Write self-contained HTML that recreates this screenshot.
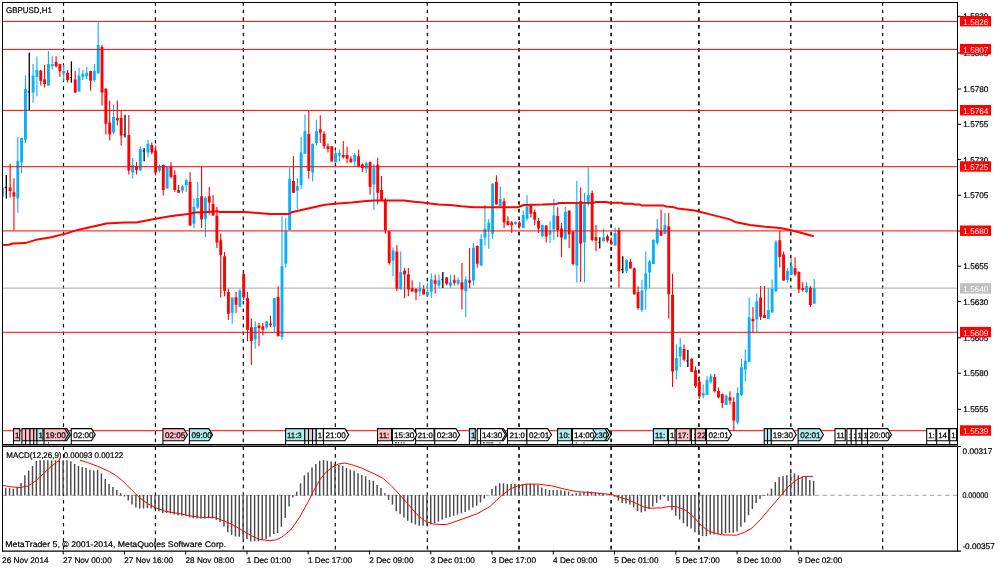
<!DOCTYPE html>
<html lang="en">
<head>
<meta charset="utf-8">
<title>GBPUSD,H1</title>
<style>
html,body{margin:0;padding:0;background:#fff;}
body{width:1000px;height:571px;overflow:hidden;font-family:"Liberation Sans", Arial, sans-serif;}
svg{display:block;}
text{text-rendering:geometricPrecision;}
text{white-space:pre;}
</style>
</head>
<body>
<svg width="1000" height="571" viewBox="0 0 1000 571">
<rect width="1000" height="571" fill="#fff"/>
<g style="will-change:opacity" opacity="0.9999">
<g stroke="#000" stroke-dasharray="3.7 3.96" fill="none">
<path d="M63.5 2V551" stroke-width="1.15"/>
<path d="M155.4 2V551" stroke-width="1.15"/>
<path d="M243.3 2V551" stroke-width="1.15"/>
<path d="M335.3 2V551" stroke-width="1.15"/>
<path d="M427.3 2V551" stroke-width="1.15"/>
<path d="M519 2V551" stroke-width="1.6"/>
<path d="M611.1 2V551" stroke-width="1.6"/>
<path d="M698.9 2V551" stroke-width="1.6"/>
<path d="M790.8 2V551" stroke-width="1.35"/>
<path d="M882.7 2V551" stroke-width="1.15"/>
</g>
<path d="M3 288.15H957" stroke="#b9b9b9" stroke-width="1.1" fill="none"/>
<clipPath id="mc"><rect x="3" y="3" width="954" height="441"/></clipPath>
<g clip-path="url(#mc)" fill="none">
<g stroke="#0ab0fd">
<path d="M2.47 187.5V196.5" stroke-width="1.1"/>
<path d="M2.47 187.5V196.5" stroke-width="2.9"/>
<path d="M17.79 136.9V212.7" stroke-width="1.1"/>
<path d="M17.79 160.8V198.5" stroke-width="2.9"/>
<path d="M21.62 137.9V172.9" stroke-width="1.1"/>
<path d="M21.62 137.9V162.5" stroke-width="2.9"/>
<path d="M25.45 75.6V143.1" stroke-width="1.1"/>
<path d="M25.45 89V140" stroke-width="2.9"/>
<path d="M33.1 64.1V102.75" stroke-width="1.1"/>
<path d="M33.1 75.6V92.5" stroke-width="2.9"/>
<path d="M36.93 56.5V96.25" stroke-width="1.1"/>
<path d="M36.93 70V76.9" stroke-width="2.9"/>
<path d="M48.42 51V85.6" stroke-width="1.1"/>
<path d="M48.42 64.1V85.6" stroke-width="2.9"/>
<path d="M52.25 56.25V69.6" stroke-width="1.1"/>
<path d="M52.25 64.1V66" stroke-width="2.9"/>
<path d="M63.73 65V81.25" stroke-width="1.1"/>
<path d="M63.73 71V73.5" stroke-width="2.9"/>
<path d="M79.05 68.1V91.6" stroke-width="1.1"/>
<path d="M79.05 75.6V91.6" stroke-width="2.9"/>
<path d="M82.88 70V80" stroke-width="1.1"/>
<path d="M82.88 73.75V76.9" stroke-width="2.9"/>
<path d="M86.71 67.1V79" stroke-width="1.1"/>
<path d="M86.71 72.75V76.25" stroke-width="2.9"/>
<path d="M94.37 64.1V82.1" stroke-width="1.1"/>
<path d="M94.37 70.9V80" stroke-width="2.9"/>
<path d="M98.2 22.1V73.5" stroke-width="1.1"/>
<path d="M98.2 45V73.5" stroke-width="2.9"/>
<path d="M113.51 105V134.6" stroke-width="1.1"/>
<path d="M113.51 116.9V132.5" stroke-width="2.9"/>
<path d="M132.66 158.1V178.5" stroke-width="1.1"/>
<path d="M132.66 165V172.5" stroke-width="2.9"/>
<path d="M140.32 146.25V170.6" stroke-width="1.1"/>
<path d="M140.32 148.75V170.6" stroke-width="2.9"/>
<path d="M147.97 139.75V157.5" stroke-width="1.1"/>
<path d="M147.97 143.75V152.5" stroke-width="2.9"/>
<path d="M159.46 164.75V172.5" stroke-width="1.1"/>
<path d="M159.46 166.9V170.8" stroke-width="2.9"/>
<path d="M167.12 167.1V188.5" stroke-width="1.1"/>
<path d="M167.12 167.1V188.5" stroke-width="2.9"/>
<path d="M182.43 184.75V192.75" stroke-width="1.1"/>
<path d="M182.43 186.5V190.6" stroke-width="2.9"/>
<path d="M186.26 178.75V191.9" stroke-width="1.1"/>
<path d="M186.26 180.25V185" stroke-width="2.9"/>
<path d="M193.92 198.75V228.1" stroke-width="1.1"/>
<path d="M193.92 206.9V223.75" stroke-width="2.9"/>
<path d="M197.75 181.9V209" stroke-width="1.1"/>
<path d="M197.75 198.1V207.5" stroke-width="2.9"/>
<path d="M205.41 196.25V236.9" stroke-width="1.1"/>
<path d="M205.41 197.75V218.75" stroke-width="2.9"/>
<path d="M232.21 297.5V323.75" stroke-width="1.1"/>
<path d="M232.21 297.5V312.75" stroke-width="2.9"/>
<path d="M239.87 288.75V306.9" stroke-width="1.1"/>
<path d="M239.87 290.6V306.9" stroke-width="2.9"/>
<path d="M255.19 321.25V348.75" stroke-width="1.1"/>
<path d="M255.19 326.9V339.4" stroke-width="2.9"/>
<path d="M266.67 321.25V328.75" stroke-width="1.1"/>
<path d="M266.67 321.25V327.5" stroke-width="2.9"/>
<path d="M274.33 298.1V331.9" stroke-width="1.1"/>
<path d="M274.33 298.1V326.9" stroke-width="2.9"/>
<path d="M281.99 216.25V340.2" stroke-width="1.1"/>
<path d="M281.99 266.25V337" stroke-width="2.9"/>
<path d="M285.82 218.1V267.5" stroke-width="1.1"/>
<path d="M285.82 231.25V263.75" stroke-width="2.9"/>
<path d="M289.65 167.5V230" stroke-width="1.1"/>
<path d="M289.65 178.75V230" stroke-width="2.9"/>
<path d="M297.3 178.1V209" stroke-width="1.1"/>
<path d="M297.3 186.25V190.6" stroke-width="2.9"/>
<path d="M301.13 136.9V188.75" stroke-width="1.1"/>
<path d="M301.13 152.5V185" stroke-width="2.9"/>
<path d="M304.96 114.4V153.75" stroke-width="1.1"/>
<path d="M304.96 131.25V153.75" stroke-width="2.9"/>
<path d="M312.62 143.75V181.5" stroke-width="1.1"/>
<path d="M312.62 143.75V172.5" stroke-width="2.9"/>
<path d="M316.45 119.75V145.6" stroke-width="1.1"/>
<path d="M316.45 131.25V143.1" stroke-width="2.9"/>
<path d="M335.59 150V162.25" stroke-width="1.1"/>
<path d="M335.59 153.1V162.25" stroke-width="2.9"/>
<path d="M339.42 149.4V161.25" stroke-width="1.1"/>
<path d="M339.42 153.1V155.6" stroke-width="2.9"/>
<path d="M354.74 153.1V166.25" stroke-width="1.1"/>
<path d="M354.74 155V161.5" stroke-width="2.9"/>
<path d="M366.23 161.5V172.9" stroke-width="1.1"/>
<path d="M366.23 163.1V168.75" stroke-width="2.9"/>
<path d="M373.88 163.75V210" stroke-width="1.1"/>
<path d="M373.88 167.5V184.4" stroke-width="2.9"/>
<path d="M393.03 247.5V276.25" stroke-width="1.1"/>
<path d="M393.03 250.6V260.6" stroke-width="2.9"/>
<path d="M400.69 251.5V289.4" stroke-width="1.1"/>
<path d="M400.69 271.9V289.4" stroke-width="2.9"/>
<path d="M419.83 282.25V296.25" stroke-width="1.1"/>
<path d="M419.83 288.1V291.5" stroke-width="2.9"/>
<path d="M427.49 283.1V295.6" stroke-width="1.1"/>
<path d="M427.49 291.9V295.6" stroke-width="2.9"/>
<path d="M431.32 273.5V298.1" stroke-width="1.1"/>
<path d="M431.32 279.4V291.5" stroke-width="2.9"/>
<path d="M438.98 274.75V287.75" stroke-width="1.1"/>
<path d="M438.98 280.25V285.6" stroke-width="2.9"/>
<path d="M450.46 274.75V287.75" stroke-width="1.1"/>
<path d="M450.46 282.25V285.6" stroke-width="2.9"/>
<path d="M458.12 277.5V285.6" stroke-width="1.1"/>
<path d="M458.12 280V283.75" stroke-width="2.9"/>
<path d="M465.78 276.5V317" stroke-width="1.1"/>
<path d="M465.78 279.4V291.25" stroke-width="2.9"/>
<path d="M473.44 243.1V285.6" stroke-width="1.1"/>
<path d="M473.44 247.75V280.6" stroke-width="2.9"/>
<path d="M481.1 234.4V265.6" stroke-width="1.1"/>
<path d="M481.1 239V265.6" stroke-width="2.9"/>
<path d="M484.93 204.75V245.6" stroke-width="1.1"/>
<path d="M484.93 228.75V237.5" stroke-width="2.9"/>
<path d="M488.75 219V248.75" stroke-width="1.1"/>
<path d="M488.75 222.75V230" stroke-width="2.9"/>
<path d="M492.58 183.2V238.75" stroke-width="1.1"/>
<path d="M492.58 183.75V233.75" stroke-width="2.9"/>
<path d="M500.24 186.5V206" stroke-width="1.1"/>
<path d="M500.24 199V206" stroke-width="2.9"/>
<path d="M515.56 221.25V225" stroke-width="1.1"/>
<path d="M515.56 222V224" stroke-width="2.9"/>
<path d="M523.22 210.6V228.1" stroke-width="1.1"/>
<path d="M523.22 215V228.1" stroke-width="2.9"/>
<path d="M527.04 195.25V220.6" stroke-width="1.1"/>
<path d="M527.04 206.25V218.75" stroke-width="2.9"/>
<path d="M542.36 224.75V237.25" stroke-width="1.1"/>
<path d="M542.36 225V236.25" stroke-width="2.9"/>
<path d="M550.02 221.25V243.1" stroke-width="1.1"/>
<path d="M550.02 231.25V234.75" stroke-width="2.9"/>
<path d="M553.85 199V239.75" stroke-width="1.1"/>
<path d="M553.85 215.25V229.4" stroke-width="2.9"/>
<path d="M565.33 206.9V239.4" stroke-width="1.1"/>
<path d="M565.33 211.9V239.4" stroke-width="2.9"/>
<path d="M576.82 181V282.5" stroke-width="1.1"/>
<path d="M576.82 202.5V265.6" stroke-width="2.9"/>
<path d="M584.48 193.1V282.5" stroke-width="1.1"/>
<path d="M584.48 204.4V242.25" stroke-width="2.9"/>
<path d="M588.31 167.25V206.25" stroke-width="1.1"/>
<path d="M588.31 195V201.9" stroke-width="2.9"/>
<path d="M603.62 228.75V241.25" stroke-width="1.1"/>
<path d="M603.62 237.5V241.25" stroke-width="2.9"/>
<path d="M615.11 227.5V245.6" stroke-width="1.1"/>
<path d="M615.11 233.1V245.6" stroke-width="2.9"/>
<path d="M626.6 259V273.1" stroke-width="1.1"/>
<path d="M626.6 260.1V271.25" stroke-width="2.9"/>
<path d="M641.91 280V311.9" stroke-width="1.1"/>
<path d="M641.91 290.6V310" stroke-width="2.9"/>
<path d="M645.74 251.5V309.75" stroke-width="1.1"/>
<path d="M645.74 273.5V289.4" stroke-width="2.9"/>
<path d="M649.57 260V288.5" stroke-width="1.1"/>
<path d="M649.57 261.5V272.5" stroke-width="2.9"/>
<path d="M653.4 239.5V264" stroke-width="1.1"/>
<path d="M653.4 239.75V264" stroke-width="2.9"/>
<path d="M657.23 219V244.75" stroke-width="1.1"/>
<path d="M657.23 228.5V243.1" stroke-width="2.9"/>
<path d="M664.89 213.1V234" stroke-width="1.1"/>
<path d="M664.89 225V234" stroke-width="2.9"/>
<path d="M676.38 344.4V379.4" stroke-width="1.1"/>
<path d="M676.38 358.1V370.6" stroke-width="2.9"/>
<path d="M680.2 338.1V366.9" stroke-width="1.1"/>
<path d="M680.2 346.9V356.5" stroke-width="2.9"/>
<path d="M703.18 384.4V398.5" stroke-width="1.1"/>
<path d="M703.18 393.1V395.6" stroke-width="2.9"/>
<path d="M707.01 376.25V395" stroke-width="1.1"/>
<path d="M707.01 380V395" stroke-width="2.9"/>
<path d="M710.84 373.75V383.75" stroke-width="1.1"/>
<path d="M710.84 376.25V381.9" stroke-width="2.9"/>
<path d="M726.15 394.4V405" stroke-width="1.1"/>
<path d="M726.15 395.6V405" stroke-width="2.9"/>
<path d="M737.64 387.5V424.4" stroke-width="1.1"/>
<path d="M737.64 393.1V422.5" stroke-width="2.9"/>
<path d="M741.47 359V396.25" stroke-width="1.1"/>
<path d="M741.47 367.25V395" stroke-width="2.9"/>
<path d="M745.3 349.4V381.25" stroke-width="1.1"/>
<path d="M745.3 360.6V369.75" stroke-width="2.9"/>
<path d="M749.13 297.5V361.9" stroke-width="1.1"/>
<path d="M749.13 317.5V361.9" stroke-width="2.9"/>
<path d="M756.78 293.5V331.9" stroke-width="1.1"/>
<path d="M756.78 301.25V319.4" stroke-width="2.9"/>
<path d="M768.27 288.1V319" stroke-width="1.1"/>
<path d="M768.27 310V319" stroke-width="2.9"/>
<path d="M772.1 279.4V312.5" stroke-width="1.1"/>
<path d="M772.1 288.75V312.5" stroke-width="2.9"/>
<path d="M775.93 240V291.4" stroke-width="1.1"/>
<path d="M775.93 241.9V291.4" stroke-width="2.9"/>
<path d="M787.42 268.1V282.75" stroke-width="1.1"/>
<path d="M787.42 271V280" stroke-width="2.9"/>
<path d="M791.25 259V275" stroke-width="1.1"/>
<path d="M791.25 266V275" stroke-width="2.9"/>
<path d="M806.56 282.25V293.3" stroke-width="1.1"/>
<path d="M806.56 286V291.9" stroke-width="2.9"/>
<path d="M814.22 279V303.75" stroke-width="1.1"/>
<path d="M814.22 288.1V303.75" stroke-width="2.9"/>
</g>
<g stroke="#ff0000">
<path d="M10.13 163.7V197.5" stroke-width="1.1"/>
<path d="M10.13 187.5V191" stroke-width="2.9"/>
<path d="M13.96 178.2V230.3" stroke-width="1.1"/>
<path d="M13.96 192.3V196.5" stroke-width="2.9"/>
<path d="M40.76 70V85.6" stroke-width="1.1"/>
<path d="M40.76 70.6V80.8" stroke-width="2.9"/>
<path d="M44.59 65V87.5" stroke-width="1.1"/>
<path d="M44.59 79.4V84" stroke-width="2.9"/>
<path d="M56.08 56.25V67.5" stroke-width="1.1"/>
<path d="M56.08 61.9V66.25" stroke-width="2.9"/>
<path d="M59.91 63.75V77.1" stroke-width="1.1"/>
<path d="M59.91 64.1V71.25" stroke-width="2.9"/>
<path d="M67.56 70V82.6" stroke-width="1.1"/>
<path d="M67.56 72.75V80" stroke-width="2.9"/>
<path d="M75.22 71V93" stroke-width="1.1"/>
<path d="M75.22 79.4V92.5" stroke-width="2.9"/>
<path d="M90.54 70.9V90.6" stroke-width="1.1"/>
<path d="M90.54 70.9V80.6" stroke-width="2.9"/>
<path d="M102.03 45V105.6" stroke-width="1.1"/>
<path d="M102.03 46.9V92.5" stroke-width="2.9"/>
<path d="M105.85 88.1V134.6" stroke-width="1.1"/>
<path d="M105.85 89V123.75" stroke-width="2.9"/>
<path d="M109.68 100.6V140.6" stroke-width="1.1"/>
<path d="M109.68 122.5V134.4" stroke-width="2.9"/>
<path d="M117.34 100.6V125.6" stroke-width="1.1"/>
<path d="M117.34 118.1V120.25" stroke-width="2.9"/>
<path d="M121.17 110.6V145.6" stroke-width="1.1"/>
<path d="M121.17 117.9V135.6" stroke-width="2.9"/>
<path d="M128.83 115V174.6" stroke-width="1.1"/>
<path d="M128.83 135V170.6" stroke-width="2.9"/>
<path d="M136.49 161.9V174.4" stroke-width="1.1"/>
<path d="M136.49 166.25V170" stroke-width="2.9"/>
<path d="M151.8 142.5V154.6" stroke-width="1.1"/>
<path d="M151.8 145V152.5" stroke-width="2.9"/>
<path d="M155.63 145.6V175.6" stroke-width="1.1"/>
<path d="M155.63 150.6V172.4" stroke-width="2.9"/>
<path d="M163.29 164.5V195.6" stroke-width="1.1"/>
<path d="M163.29 165V190" stroke-width="2.9"/>
<path d="M170.95 161.9V178.5" stroke-width="1.1"/>
<path d="M170.95 166.25V176.9" stroke-width="2.9"/>
<path d="M174.78 170.3V191.9" stroke-width="1.1"/>
<path d="M174.78 175V190" stroke-width="2.9"/>
<path d="M178.61 185V192.75" stroke-width="1.1"/>
<path d="M178.61 190V192.75" stroke-width="2.9"/>
<path d="M190.09 172.25V225.6" stroke-width="1.1"/>
<path d="M190.09 181.9V225.6" stroke-width="2.9"/>
<path d="M201.58 167V228.1" stroke-width="1.1"/>
<path d="M201.58 196.25V219.4" stroke-width="2.9"/>
<path d="M209.24 186.9V214.4" stroke-width="1.1"/>
<path d="M209.24 196.25V202.5" stroke-width="2.9"/>
<path d="M213.07 195V215.6" stroke-width="1.1"/>
<path d="M213.07 204V215.6" stroke-width="2.9"/>
<path d="M216.9 206.9V248.1" stroke-width="1.1"/>
<path d="M216.9 215.6V242.5" stroke-width="2.9"/>
<path d="M220.72 233.5V297.5" stroke-width="1.1"/>
<path d="M220.72 240.25V255" stroke-width="2.9"/>
<path d="M224.55 251.9V296.25" stroke-width="1.1"/>
<path d="M224.55 256.25V290.8" stroke-width="2.9"/>
<path d="M228.38 288.75V320" stroke-width="1.1"/>
<path d="M228.38 292V313.75" stroke-width="2.9"/>
<path d="M236.04 291.9V312.75" stroke-width="1.1"/>
<path d="M236.04 297.25V304.75" stroke-width="2.9"/>
<path d="M243.7 273.75V300" stroke-width="1.1"/>
<path d="M243.7 273.75V297.5" stroke-width="2.9"/>
<path d="M247.53 291.9V341.25" stroke-width="1.1"/>
<path d="M247.53 298.1V329.75" stroke-width="2.9"/>
<path d="M251.36 318.5V365" stroke-width="1.1"/>
<path d="M251.36 327.25V341" stroke-width="2.9"/>
<path d="M259.01 323.1V346" stroke-width="1.1"/>
<path d="M259.01 325.6V328.1" stroke-width="2.9"/>
<path d="M262.84 323.1V335.6" stroke-width="1.1"/>
<path d="M262.84 326.25V329.75" stroke-width="2.9"/>
<path d="M270.5 315.6V326.9" stroke-width="1.1"/>
<path d="M270.5 323.5V325.25" stroke-width="2.9"/>
<path d="M278.16 286.25V336.25" stroke-width="1.1"/>
<path d="M278.16 296.9V336.25" stroke-width="2.9"/>
<path d="M293.48 156.25V192.75" stroke-width="1.1"/>
<path d="M293.48 181V192.75" stroke-width="2.9"/>
<path d="M308.79 110.6V178.75" stroke-width="1.1"/>
<path d="M308.79 134V171" stroke-width="2.9"/>
<path d="M320.28 115.25V143.1" stroke-width="1.1"/>
<path d="M320.28 129.4V132.75" stroke-width="2.9"/>
<path d="M324.11 131.25V148.75" stroke-width="1.1"/>
<path d="M324.11 133.75V146.25" stroke-width="2.9"/>
<path d="M327.94 143.5V152.5" stroke-width="1.1"/>
<path d="M327.94 146.25V149" stroke-width="2.9"/>
<path d="M331.77 146.25V161.5" stroke-width="1.1"/>
<path d="M331.77 146.25V161.5" stroke-width="2.9"/>
<path d="M343.25 141V158.5" stroke-width="1.1"/>
<path d="M343.25 155V157.25" stroke-width="2.9"/>
<path d="M347.08 146.5V163.1" stroke-width="1.1"/>
<path d="M347.08 155V158.75" stroke-width="2.9"/>
<path d="M350.91 156.25V163.1" stroke-width="1.1"/>
<path d="M350.91 158.75V162.1" stroke-width="2.9"/>
<path d="M358.57 149.4V166.25" stroke-width="1.1"/>
<path d="M358.57 156.25V166.25" stroke-width="2.9"/>
<path d="M362.4 163.5V171.9" stroke-width="1.1"/>
<path d="M362.4 164.4V168.1" stroke-width="2.9"/>
<path d="M370.06 161.5V194.75" stroke-width="1.1"/>
<path d="M370.06 162.1V186.9" stroke-width="2.9"/>
<path d="M377.71 157.75V204.4" stroke-width="1.1"/>
<path d="M377.71 164.75V192.75" stroke-width="2.9"/>
<path d="M381.54 176V200.6" stroke-width="1.1"/>
<path d="M381.54 190V200.6" stroke-width="2.9"/>
<path d="M385.37 198.1V233.75" stroke-width="1.1"/>
<path d="M385.37 199.75V230" stroke-width="2.9"/>
<path d="M389.2 231.25V264.75" stroke-width="1.1"/>
<path d="M389.2 231.25V263" stroke-width="2.9"/>
<path d="M396.86 245.25V291.25" stroke-width="1.1"/>
<path d="M396.86 251.5V288.75" stroke-width="2.9"/>
<path d="M404.52 268.1V298.1" stroke-width="1.1"/>
<path d="M404.52 270.6V274.4" stroke-width="2.9"/>
<path d="M408.35 268.1V296" stroke-width="1.1"/>
<path d="M408.35 274.4V289.4" stroke-width="2.9"/>
<path d="M412.17 280.25V291.5" stroke-width="1.1"/>
<path d="M412.17 288.1V291.5" stroke-width="2.9"/>
<path d="M416 288V300" stroke-width="1.1"/>
<path d="M416 289V292.5" stroke-width="2.9"/>
<path d="M423.66 285.25V294.4" stroke-width="1.1"/>
<path d="M423.66 289V294.4" stroke-width="2.9"/>
<path d="M435.15 274.75V293.5" stroke-width="1.1"/>
<path d="M435.15 280.25V283.75" stroke-width="2.9"/>
<path d="M446.64 277V285.6" stroke-width="1.1"/>
<path d="M446.64 277.5V283.75" stroke-width="2.9"/>
<path d="M454.29 274.75V285.6" stroke-width="1.1"/>
<path d="M454.29 280.25V282.75" stroke-width="2.9"/>
<path d="M461.95 263.1V309.4" stroke-width="1.1"/>
<path d="M461.95 282.25V289.4" stroke-width="2.9"/>
<path d="M469.61 248.1V288.1" stroke-width="1.1"/>
<path d="M469.61 280.25V282.75" stroke-width="2.9"/>
<path d="M477.27 245.6V267.75" stroke-width="1.1"/>
<path d="M477.27 246V263.75" stroke-width="2.9"/>
<path d="M496.41 175.25V204.4" stroke-width="1.1"/>
<path d="M496.41 181.9V204.4" stroke-width="2.9"/>
<path d="M504.07 198.1V228.1" stroke-width="1.1"/>
<path d="M504.07 201.25V222.5" stroke-width="2.9"/>
<path d="M507.9 216.25V225.25" stroke-width="1.1"/>
<path d="M507.9 221.25V225.25" stroke-width="2.9"/>
<path d="M511.73 221V233.1" stroke-width="1.1"/>
<path d="M511.73 222.5V225.25" stroke-width="2.9"/>
<path d="M519.39 221V228.5" stroke-width="1.1"/>
<path d="M519.39 222.5V226.5" stroke-width="2.9"/>
<path d="M530.87 204V217.75" stroke-width="1.1"/>
<path d="M530.87 204.4V213.75" stroke-width="2.9"/>
<path d="M534.7 209.4V225.25" stroke-width="1.1"/>
<path d="M534.7 211.9V219.75" stroke-width="2.9"/>
<path d="M538.53 218.1V233.1" stroke-width="1.1"/>
<path d="M538.53 221V228.5" stroke-width="2.9"/>
<path d="M546.19 225V242.5" stroke-width="1.1"/>
<path d="M546.19 225.6V236.5" stroke-width="2.9"/>
<path d="M557.68 207.25V236.9" stroke-width="1.1"/>
<path d="M557.68 216V230" stroke-width="2.9"/>
<path d="M561.5 223.1V256.9" stroke-width="1.1"/>
<path d="M561.5 228.5V237.5" stroke-width="2.9"/>
<path d="M569.16 210.2V248.1" stroke-width="1.1"/>
<path d="M569.16 210.6V234.4" stroke-width="2.9"/>
<path d="M572.99 231V265.6" stroke-width="1.1"/>
<path d="M572.99 231.25V264" stroke-width="2.9"/>
<path d="M580.65 187.5V281.9" stroke-width="1.1"/>
<path d="M580.65 201.25V243.5" stroke-width="2.9"/>
<path d="M592.14 190.6V241.5" stroke-width="1.1"/>
<path d="M592.14 193.1V240" stroke-width="2.9"/>
<path d="M595.97 225V251.25" stroke-width="1.1"/>
<path d="M595.97 237.25V240.6" stroke-width="2.9"/>
<path d="M607.45 234.4V242.5" stroke-width="1.1"/>
<path d="M607.45 236.25V240.6" stroke-width="2.9"/>
<path d="M611.28 237.5V244.4" stroke-width="1.1"/>
<path d="M611.28 241.9V244.4" stroke-width="2.9"/>
<path d="M618.94 227.5V287.75" stroke-width="1.1"/>
<path d="M618.94 230V271.25" stroke-width="2.9"/>
<path d="M630.43 259V268.5" stroke-width="1.1"/>
<path d="M630.43 261.9V268.5" stroke-width="2.9"/>
<path d="M634.26 267.5V294.4" stroke-width="1.1"/>
<path d="M634.26 268.3V294.4" stroke-width="2.9"/>
<path d="M638.09 286.25V309.75" stroke-width="1.1"/>
<path d="M638.09 291.9V308.1" stroke-width="2.9"/>
<path d="M661.06 209.4V236" stroke-width="1.1"/>
<path d="M661.06 230.5V235.6" stroke-width="2.9"/>
<path d="M668.72 213.1V318.5" stroke-width="1.1"/>
<path d="M668.72 226.25V294.4" stroke-width="2.9"/>
<path d="M672.55 273.75V386.9" stroke-width="1.1"/>
<path d="M672.55 294.75V371.5" stroke-width="2.9"/>
<path d="M684.03 344.4V361.25" stroke-width="1.1"/>
<path d="M684.03 349V359.75" stroke-width="2.9"/>
<path d="M691.69 358V371.9" stroke-width="1.1"/>
<path d="M691.69 358.75V371.9" stroke-width="2.9"/>
<path d="M695.52 366.5V388" stroke-width="1.1"/>
<path d="M695.52 370.25V386.25" stroke-width="2.9"/>
<path d="M699.35 376.25V399" stroke-width="1.1"/>
<path d="M699.35 381.5V396.25" stroke-width="2.9"/>
<path d="M714.66 374V392.5" stroke-width="1.1"/>
<path d="M714.66 376.9V391.25" stroke-width="2.9"/>
<path d="M718.49 387.5V398.5" stroke-width="1.1"/>
<path d="M718.49 391V397.25" stroke-width="2.9"/>
<path d="M722.32 393.5V408.1" stroke-width="1.1"/>
<path d="M722.32 394V403.1" stroke-width="2.9"/>
<path d="M729.98 391.25V404.4" stroke-width="1.1"/>
<path d="M729.98 397.25V400.6" stroke-width="2.9"/>
<path d="M733.81 397.25V430.5" stroke-width="1.1"/>
<path d="M733.81 401.9V420.6" stroke-width="2.9"/>
<path d="M752.96 306.9V331.9" stroke-width="1.1"/>
<path d="M752.96 318.75V321.25" stroke-width="2.9"/>
<path d="M760.61 286V320" stroke-width="1.1"/>
<path d="M760.61 297.5V316.9" stroke-width="2.9"/>
<path d="M764.44 286V318.1" stroke-width="1.1"/>
<path d="M764.44 315V318.1" stroke-width="2.9"/>
<path d="M779.76 231V267.5" stroke-width="1.1"/>
<path d="M779.76 240.25V256.9" stroke-width="2.9"/>
<path d="M783.59 251.5V280.6" stroke-width="1.1"/>
<path d="M783.59 254.4V280.6" stroke-width="2.9"/>
<path d="M795.07 257.25V276.25" stroke-width="1.1"/>
<path d="M795.07 268.1V274.4" stroke-width="2.9"/>
<path d="M798.9 271.5V293.3" stroke-width="1.1"/>
<path d="M798.9 271.9V289.4" stroke-width="2.9"/>
<path d="M802.73 282.25V291.5" stroke-width="1.1"/>
<path d="M802.73 288.1V289.9" stroke-width="2.9"/>
<path d="M810.39 286V306.9" stroke-width="1.1"/>
<path d="M810.39 287.75V305" stroke-width="2.9"/>
</g>
<g stroke="#000">
<path d="M6.3 175V198.6" stroke-width="1.3"/>
<path d="M4.8 187.3H6.3" stroke-width="1.1"/>
<path d="M29.27 52.5V110" stroke-width="1.3"/>
<path d="M27.77 91.9H29.27" stroke-width="1.1"/>
<path d="M71.39 61.25V82.7" stroke-width="1.3"/>
<path d="M69.89 77.5H71.39" stroke-width="1.1"/>
<path d="M125 114.75V137.5" stroke-width="1.3"/>
<path d="M123.5 134.8H125" stroke-width="1.1"/>
<path d="M144.14 148.1V161.25" stroke-width="1.3"/>
<path d="M142.64 151H144.14" stroke-width="1.1"/>
<path d="M442.81 271.9V288.1" stroke-width="1.3"/>
<path d="M441.31 279.8H442.81" stroke-width="1.1"/>
<path d="M599.79 237.25V248.5" stroke-width="1.3"/>
<path d="M598.29 242.3H599.79" stroke-width="1.1"/>
<path d="M622.77 256.25V273.3" stroke-width="1.3"/>
<path d="M621.27 269.6H622.77" stroke-width="1.1"/>
<path d="M687.86 350V366.9" stroke-width="1.3"/>
<path d="M686.36 361H687.86" stroke-width="1.1"/>
</g>
</g>
<polyline fill="none" stroke="#ff0000" stroke-width="2" stroke-linejoin="round" points="3.1,245 8.75,244.75 12.5,243.5 25,243.1 37.5,239.4 50,237.5 62.5,234.4 67.5,233.1 75,230.6 87.5,227.75 100,225 106.25,223.5 115,223.1 125,222.6 136.25,222.5 155.6,218.75 170,216.25 190,213.75 195,212.5 207.5,211.9 217.5,211.25 220,212.1 245,212.1 270,214 288.75,214 292.5,211.9 325,204.75 335,203.75 351.25,202.5 363.75,201.25 373.75,200.6 404,200.6 414,201.8 422.5,202.5 430,203.5 438.75,204.4 450,205 461.25,206.25 473.75,207.25 517.5,207.25 523.75,205 542.5,204.6 556.25,204 558.75,203.1 593.75,202.75 596.25,201.9 606.25,201.9 610,202.75 621.25,202.75 623.75,203.75 632.5,203.75 635,204.6 640,204.6 642.5,205.6 663.75,205.6 666.25,206.5 672.5,206.9 677.5,208.5 695,210.6 698.75,211.5 710,214.4 730,219.4 735,221.9 742.5,223.5 750,225 765,226.7 780,228 790,230 800,232.5 813.75,236.25"/>
<g stroke="#ff0000" stroke-width="1" fill="none">
<path d="M3 21.4H957"/>
<path d="M3 49.4H957"/>
<path d="M3 110.4H957"/>
<path d="M3 166.7H957"/>
<path d="M3 230.9H957"/>
<path d="M3 332.3H957"/>
<path d="M3 430.7H957"/>
</g>
<path d="M3 495.3H957" stroke="#b4b4b4" stroke-width="1.25" stroke-dasharray="4.2 3.46" fill="none"/>
<g stroke="#4a4a4a" stroke-width="1.45" fill="none">
<path d="M5.7 495.6V488.1"/>
<path d="M9.53 495.6V488.1"/>
<path d="M13.36 495.6V488.75"/>
<path d="M17.19 495.6V487.5"/>
<path d="M21.02 495.6V483.1"/>
<path d="M24.84 495.6V475.25"/>
<path d="M28.67 495.6V470.6"/>
<path d="M32.5 495.6V466"/>
<path d="M36.33 495.6V461"/>
<path d="M40.16 495.6V460.25"/>
<path d="M43.99 495.6V460.25"/>
<path d="M47.82 495.6V460.25"/>
<path d="M51.65 495.6V460.25"/>
<path d="M55.48 495.6V460.25"/>
<path d="M59.31 495.6V460.25"/>
<path d="M63.13 495.6V460.25"/>
<path d="M66.96 495.6V460.25"/>
<path d="M70.79 495.6V461.25"/>
<path d="M74.62 495.6V464"/>
<path d="M78.45 495.6V466"/>
<path d="M82.28 495.6V467.25"/>
<path d="M86.11 495.6V468.1"/>
<path d="M89.94 495.6V469.75"/>
<path d="M93.77 495.6V470.6"/>
<path d="M97.6 495.6V469.75"/>
<path d="M101.43 495.6V473.5"/>
<path d="M105.25 495.6V479"/>
<path d="M109.08 495.6V484"/>
<path d="M112.91 495.6V486.9"/>
<path d="M116.74 495.6V490"/>
<path d="M120.57 495.6V493.1"/>
<path d="M124.4 495V496.5"/>
<path d="M128.23 495V500.4"/>
<path d="M132.06 495V504.6"/>
<path d="M135.89 495V507.4"/>
<path d="M139.72 495V508.5"/>
<path d="M143.54 495V508.5"/>
<path d="M147.37 495V508.2"/>
<path d="M151.2 495V508.5"/>
<path d="M155.03 495V509.5"/>
<path d="M158.86 495V511.2"/>
<path d="M162.69 495V513.2"/>
<path d="M166.52 495V513.2"/>
<path d="M170.35 495V513.5"/>
<path d="M174.18 495V514.5"/>
<path d="M178.01 495V515.4"/>
<path d="M181.83 495V515.7"/>
<path d="M185.66 495V515.7"/>
<path d="M189.49 495V517.4"/>
<path d="M193.32 495V518.2"/>
<path d="M197.15 495V518.2"/>
<path d="M200.98 495V518.5"/>
<path d="M204.81 495V518.5"/>
<path d="M208.64 495V518.2"/>
<path d="M212.47 495V518.5"/>
<path d="M216.3 495V519.9"/>
<path d="M220.12 495V521.9"/>
<path d="M223.95 495V526.5"/>
<path d="M227.78 495V532.3"/>
<path d="M231.61 495V534.8"/>
<path d="M235.44 495V536.5"/>
<path d="M239.27 495V536.8"/>
<path d="M243.1 495V538.2"/>
<path d="M246.93 495V539"/>
<path d="M250.76 495V541.5"/>
<path d="M254.59 495V541.2"/>
<path d="M258.41 495V541.2"/>
<path d="M262.24 495V539.8"/>
<path d="M266.07 495V539"/>
<path d="M269.9 495V536.8"/>
<path d="M273.73 495V534"/>
<path d="M277.56 495V533.2"/>
<path d="M281.39 495V526.8"/>
<path d="M285.22 495V517.9"/>
<path d="M289.05 495V506.6"/>
<path d="M292.88 495V497.4"/>
<path d="M296.7 495.6V491.6"/>
<path d="M300.53 495.6V483.3"/>
<path d="M304.36 495.6V475.3"/>
<path d="M308.19 495.6V472.5"/>
<path d="M312.02 495.6V467.5"/>
<path d="M315.85 495.6V464.1"/>
<path d="M319.68 495.6V460.8"/>
<path d="M323.51 495.6V460"/>
<path d="M327.34 495.6V460.8"/>
<path d="M331.17 495.6V461.6"/>
<path d="M334.99 495.6V464.1"/>
<path d="M338.82 495.6V465"/>
<path d="M342.65 495.6V465.8"/>
<path d="M346.48 495.6V468"/>
<path d="M350.31 495.6V469.6"/>
<path d="M354.14 495.6V470.8"/>
<path d="M357.97 495.6V473.3"/>
<path d="M361.8 495.6V475"/>
<path d="M365.63 495.6V476.3"/>
<path d="M369.45 495.6V479.9"/>
<path d="M373.28 495.6V480.8"/>
<path d="M377.11 495.6V484.9"/>
<path d="M380.94 495.6V487.9"/>
<path d="M384.77 495.6V493.2"/>
<path d="M388.6 495V499.9"/>
<path d="M392.43 495V504.6"/>
<path d="M396.26 495V511.2"/>
<path d="M400.09 495V514"/>
<path d="M403.92 495V517.4"/>
<path d="M407.75 495V520.7"/>
<path d="M411.57 495V522.9"/>
<path d="M415.4 495V524.5"/>
<path d="M419.23 495V525.7"/>
<path d="M423.06 495V525.7"/>
<path d="M426.89 495V525.7"/>
<path d="M430.72 495V524.5"/>
<path d="M434.55 495V523.2"/>
<path d="M438.38 495V521.7"/>
<path d="M442.21 495V519.5"/>
<path d="M446.04 495V517.9"/>
<path d="M449.86 495V516.9"/>
<path d="M453.69 495V515.7"/>
<path d="M457.52 495V514.5"/>
<path d="M461.35 495V513.2"/>
<path d="M465.18 495V511.9"/>
<path d="M469.01 495V510.2"/>
<path d="M472.84 495V507.4"/>
<path d="M476.67 495V505.7"/>
<path d="M480.5 495V502.4"/>
<path d="M484.32 495V498.6"/>
<path d="M491.98 495.6V489.1"/>
<path d="M495.81 495.6V485.8"/>
<path d="M499.64 495.6V483.3"/>
<path d="M503.47 495.6V483.3"/>
<path d="M507.3 495.6V484.1"/>
<path d="M511.13 495.6V484.1"/>
<path d="M514.96 495.6V484.1"/>
<path d="M518.79 495.6V484.1"/>
<path d="M522.62 495.6V484.1"/>
<path d="M526.44 495.6V483.8"/>
<path d="M530.27 495.6V483.8"/>
<path d="M534.1 495.6V484.1"/>
<path d="M537.93 495.6V484.9"/>
<path d="M541.76 495.6V487.4"/>
<path d="M545.59 495.6V489.1"/>
<path d="M549.42 495.6V489.9"/>
<path d="M553.25 495.6V489.9"/>
<path d="M557.08 495.6V489.9"/>
<path d="M560.9 495.6V490.3"/>
<path d="M564.73 495.6V490.8"/>
<path d="M568.56 495.6V491.6"/>
<path d="M572.39 495.6V494.1"/>
<path d="M576.22 495.6V492.9"/>
<path d="M580.05 495.6V492.4"/>
<path d="M583.88 495.6V491.9"/>
<path d="M587.71 495.6V491.3"/>
<path d="M591.54 495.6V491.6"/>
<path d="M595.37 495.6V492.4"/>
<path d="M599.19 495.6V492.9"/>
<path d="M603.02 495.6V494"/>
<path d="M606.85 495.6V494.6"/>
<path d="M614.51 495V496.6"/>
<path d="M618.34 495V500.7"/>
<path d="M622.17 495V502.9"/>
<path d="M626 495V503.6"/>
<path d="M629.83 495V504.6"/>
<path d="M633.66 495V507.4"/>
<path d="M637.49 495V511.2"/>
<path d="M641.31 495V512.4"/>
<path d="M645.14 495V511.2"/>
<path d="M648.97 495V509"/>
<path d="M652.8 495V506.6"/>
<path d="M656.63 495V502.9"/>
<path d="M660.46 495V499.6"/>
<path d="M664.29 495V496.6"/>
<path d="M668.12 495V500.7"/>
<path d="M671.95 495V510.2"/>
<path d="M675.77 495V515.7"/>
<path d="M679.6 495V519.5"/>
<path d="M683.43 495V523.2"/>
<path d="M687.26 495V526.5"/>
<path d="M691.09 495V528.5"/>
<path d="M694.92 495V532.3"/>
<path d="M698.75 495V534.8"/>
<path d="M702.58 495V536.2"/>
<path d="M706.41 495V536.2"/>
<path d="M710.24 495V534.5"/>
<path d="M714.06 495V534.5"/>
<path d="M717.89 495V534"/>
<path d="M721.72 495V534"/>
<path d="M725.55 495V533.2"/>
<path d="M729.38 495V532.8"/>
<path d="M733.21 495V532.8"/>
<path d="M737.04 495V531.5"/>
<path d="M740.87 495V526.8"/>
<path d="M744.7 495V522.4"/>
<path d="M748.53 495V515.2"/>
<path d="M752.36 495V509"/>
<path d="M756.18 495V502.9"/>
<path d="M760.01 495V499.1"/>
<path d="M763.84 495V495.8"/>
<path d="M767.67 495.6V493.6"/>
<path d="M771.5 495.6V488.6"/>
<path d="M775.33 495.6V481.9"/>
<path d="M779.16 495.6V476.9"/>
<path d="M782.99 495.6V476.3"/>
<path d="M786.82 495.6V475.3"/>
<path d="M790.64 495.6V473.3"/>
<path d="M794.47 495.6V473.3"/>
<path d="M798.3 495.6V475.3"/>
<path d="M802.13 495.6V476.6"/>
<path d="M805.96 495.6V476.6"/>
<path d="M809.79 495.6V479.9"/>
<path d="M813.62 495.6V480.8"/>
</g>
<polyline fill="none" stroke="#ff0000" stroke-width="1" stroke-linejoin="round" points="2.5,485.25 10,486.8 20,487.5 28,486 35,481.5 42,475 50,467.5 56,462.5 60,460.25"/>
<polyline fill="none" stroke="#ff0000" stroke-width="1" stroke-linejoin="round" points="80,460.25 87.5,462.5 97.5,466.25 108.75,471.25 115,475 121.65,480 131.6,489.9 140,498.2 148.3,504 154.9,507.4 164.9,511.2 181.5,514 193.2,516.5 201.5,517.4 214.8,517.4 223.1,520.7 231.4,524 241.4,529.8 251.4,535.7 259.7,539.5 269.7,540.7 276.3,539.8 281.65,537.3 290.8,529.8 300,516.5 308.3,501.6 314.9,488.3 319.9,479.9 324.9,473.3 331.6,467.5 338.2,464.1 344.9,463 351.5,464.6 361.5,468 374.8,474.1 383.1,478.3 391.4,485.8 399.8,494.9 408.1,504.1 416.4,514 424.7,520.7 433,524 441,524.5 446.6,524.5 460,519.9 476.6,514 489.9,506.6 501.5,495.7 509.9,489.1 518.2,485.8 526.5,484.1 538.1,484.1 551.4,485.8 564.7,489.1 576.4,491.6 588,492.4 601,493.4 611.6,494.6 620,497.4 628.3,499.9 636.6,503.6 644.9,507.4 649.9,508.2 661.5,507.9 668.2,506.6 676.5,506.6 686.5,510.7 694.8,518.2 701.5,525.7 708.1,530.7 714.8,533.2 721.4,534.8 736.4,535.2 744.7,532.3 753,527.3 761,519 765,514 780,496.6 788.3,486.6 796.6,479.9 803.2,476.6 813.2,476.3"/>
<g font-family='"Liberation Sans", Arial, sans-serif' font-size="7.8" stroke-linejoin="miter">
<rect x="13.5" y="440.7" width="6.25" height="3.5" fill="#fff"/>
<path d="M13.5 428.6H19.75V440.7H13.5Z" fill="#ffc0cb" stroke="none"/>
<path d="M13.5 444.2V428.6H19.75V440.7H13.5" fill="none" stroke="#000" stroke-width="1.05"/>
<text x="15" y="438.2" fill="#000" stroke="#000" stroke-width="0.25">1</text>
<rect x="21.9" y="440.7" width="3.7" height="3.5" fill="#fff"/>
<path d="M21.9 428.6H25.6V440.7H21.9Z" fill="#ffc0cb" stroke="none"/>
<path d="M21.9 444.2V428.6H25.6V440.7H21.9" fill="none" stroke="#000" stroke-width="1.05"/>
<rect x="25.6" y="440.7" width="4.4" height="3.5" fill="#fff"/>
<path d="M25.6 428.6H30V440.7H25.6Z" fill="#ffc0cb" stroke="none"/>
<path d="M25.6 444.2V428.6H30V440.7H25.6" fill="none" stroke="#000" stroke-width="1.05"/>
<rect x="30" y="440.7" width="3.75" height="3.5" fill="#fff"/>
<path d="M30 428.6H33.75V440.7H30Z" fill="#ffc0cb" stroke="none"/>
<path d="M30 444.2V428.6H33.75V440.7H30" fill="none" stroke="#000" stroke-width="1.05"/>
<rect x="33.75" y="440.7" width="3.15" height="3.5" fill="#fff"/>
<path d="M33.75 428.6H36.9V440.7H33.75Z" fill="#ffc0cb" stroke="none"/>
<path d="M33.75 444.2V428.6H36.9V440.7H33.75" fill="none" stroke="#000" stroke-width="1.05"/>
<rect x="36.9" y="440.7" width="6.1" height="3.5" fill="#fff"/>
<path d="M36.9 428.6H43V440.7H36.9Z" fill="#afeeee" stroke="none"/>
<path d="M36.9 444.2V428.6H43V440.7H36.9" fill="none" stroke="#000" stroke-width="1.05"/>
<text x="38.4" y="438.2" fill="#000" stroke="#000" stroke-width="0.25">1</text>
<rect x="47" y="440.7" width="19.8" height="3.5" fill="#fff"/>
<path d="M47 428.6H66.8L70.6 434.65L66.8 440.7H47Z" fill="#afeeee" stroke="none"/>
<path d="M47 444.2V428.6H66.8L70.6 434.65L66.8 440.7H47" fill="none" stroke="#000" stroke-width="1.05"/>
<rect x="44" y="440.7" width="20.7" height="3.5" fill="#fff"/>
<path d="M44 428.6H64.7L68.5 434.65L64.7 440.7H44Z" fill="#ffc0cb" stroke="none"/>
<path d="M44 444.2V428.6H64.7L68.5 434.65L64.7 440.7H44" fill="none" stroke="#000" stroke-width="1.05"/>
<text x="45.5" y="438.2" fill="#000" stroke="#000" stroke-width="0.25" font-size="8.1">19:00</text>
<rect x="71.25" y="440.7" width="20.2" height="3.5" fill="#fff"/>
<path d="M71.25 428.6H91.45L95.25 434.65L91.45 440.7H71.25Z" fill="#ffffff" stroke="none"/>
<path d="M71.25 444.2V428.6H91.45L95.25 434.65L91.45 440.7H71.25" fill="none" stroke="#000" stroke-width="1.05"/>
<text x="73.35" y="438.2" fill="#000" stroke="#000" stroke-width="0.25" font-size="8.1">02:00</text>
<rect x="162.9" y="440.7" width="20.8" height="3.5" fill="#fff"/>
<path d="M162.9 428.6H183.7L187.5 434.65L183.7 440.7H162.9Z" fill="#ffc0cb" stroke="none"/>
<path d="M162.9 444.2V428.6H183.7L187.5 434.65L183.7 440.7H162.9" fill="none" stroke="#000" stroke-width="1.05"/>
<text x="165" y="438.2" fill="#000" stroke="#000" stroke-width="0.25" font-size="8.1">02:05</text>
<rect x="189.4" y="440.7" width="19.4" height="3.5" fill="#fff"/>
<path d="M189.4 428.6H208.8L212.6 434.65L208.8 440.7H189.4Z" fill="#afeeee" stroke="none"/>
<path d="M189.4 444.2V428.6H208.8L212.6 434.65L208.8 440.7H189.4" fill="none" stroke="#000" stroke-width="1.05"/>
<text x="191.5" y="438.2" fill="#000" stroke="#000" stroke-width="0.25" font-size="8.1">09:00</text>
<rect x="285.6" y="440.7" width="19.15" height="3.5" fill="#fff"/>
<path d="M285.6 428.6H304.75V440.7H285.6Z" fill="#afeeee" stroke="none"/>
<path d="M285.6 444.2V428.6H304.75V440.7H285.6" fill="none" stroke="#000" stroke-width="1.05"/>
<text x="287.1" y="438.2" fill="#000" stroke="#000" stroke-width="0.25">11:3</text>
<rect x="304.75" y="440.7" width="3.75" height="3.5" fill="#fff"/>
<path d="M304.75 428.6H308.5V440.7H304.75Z" fill="#afeeee" stroke="none"/>
<path d="M304.75 444.2V428.6H308.5V440.7H304.75" fill="none" stroke="#000" stroke-width="1.05"/>
<rect x="308.5" y="440.7" width="4" height="3.5" fill="#fff"/>
<path d="M308.5 428.6H312.5V440.7H308.5Z" fill="#ffc0cb" stroke="none"/>
<path d="M308.5 444.2V428.6H312.5V440.7H308.5" fill="none" stroke="#000" stroke-width="1.05"/>
<rect x="312.5" y="440.7" width="3.75" height="3.5" fill="#fff"/>
<path d="M312.5 428.6H316.25V440.7H312.5Z" fill="#afeeee" stroke="none"/>
<path d="M312.5 444.2V428.6H316.25V440.7H312.5" fill="none" stroke="#000" stroke-width="1.05"/>
<rect x="316.25" y="440.7" width="7.05" height="3.5" fill="#fff"/>
<path d="M316.25 428.6H323.3V440.7H316.25Z" fill="#ffffff" stroke="none"/>
<path d="M316.25 444.2V428.6H323.3V440.7H316.25" fill="none" stroke="#000" stroke-width="1.05"/>
<text x="317.75" y="438.2" fill="#000" stroke="#000" stroke-width="0.25">1</text>
<rect x="323.5" y="440.7" width="21.45" height="3.5" fill="#fff"/>
<path d="M323.5 428.6H344.95L348.75 434.65L344.95 440.7H323.5Z" fill="#ffffff" stroke="none"/>
<path d="M323.5 444.2V428.6H344.95L348.75 434.65L344.95 440.7H323.5" fill="none" stroke="#000" stroke-width="1.05"/>
<text x="325.6" y="438.2" fill="#000" stroke="#000" stroke-width="0.25" font-size="8.1">21:00</text>
<rect x="377.5" y="440.7" width="14" height="3.5" fill="#fff"/>
<path d="M377.5 428.6H391.5V440.7H377.5Z" fill="#ffc0cb" stroke="none"/>
<path d="M377.5 444.2V428.6H391.5V440.7H377.5" fill="none" stroke="#000" stroke-width="1.05"/>
<text x="379" y="438.2" fill="#000" stroke="#000" stroke-width="0.25">11:</text>
<rect x="415.6" y="440.7" width="18.4" height="3.5" fill="#fff"/>
<path d="M415.6 428.6H434V440.7H415.6Z" fill="#ffffff" stroke="none"/>
<path d="M415.6 444.2V428.6H434V440.7H415.6" fill="none" stroke="#000" stroke-width="1.05"/>
<text x="417.7" y="438.2" fill="#000" stroke="#000" stroke-width="0.25">21:0</text>
<rect x="392.5" y="440.7" width="20.6" height="3.5" fill="#fff"/>
<path d="M392.5 428.6H413.1L416.9 434.65L413.1 440.7H392.5Z" fill="#ffffff" stroke="none"/>
<path d="M392.5 444.2V428.6H413.1L416.9 434.65L413.1 440.7H392.5" fill="none" stroke="#000" stroke-width="1.05"/>
<text x="394" y="438.2" fill="#000" stroke="#000" stroke-width="0.25" font-size="8.1">15:30</text>
<rect x="434.75" y="440.7" width="21.2" height="3.5" fill="#fff"/>
<path d="M434.75 428.6H455.95L459.75 434.65L455.95 440.7H434.75Z" fill="#ffffff" stroke="none"/>
<path d="M434.75 444.2V428.6H455.95L459.75 434.65L455.95 440.7H434.75" fill="none" stroke="#000" stroke-width="1.05"/>
<text x="436.85" y="438.2" fill="#000" stroke="#000" stroke-width="0.25" font-size="8.1">02:30</text>
<rect x="469.4" y="440.7" width="5.85" height="3.5" fill="#fff"/>
<path d="M469.4 428.6H475.25V440.7H469.4Z" fill="#afeeee" stroke="none"/>
<path d="M469.4 444.2V428.6H475.25V440.7H469.4" fill="none" stroke="#000" stroke-width="1.05"/>
<text x="470.9" y="438.2" fill="#000" stroke="#000" stroke-width="0.25">1</text>
<rect x="477.25" y="440.7" width="3.35" height="3.5" fill="#fff"/>
<path d="M477.25 428.6H480.6V440.7H477.25Z" fill="#ffffff" stroke="none"/>
<path d="M477.25 444.2V428.6H480.6V440.7H477.25" fill="none" stroke="#000" stroke-width="1.05"/>
<rect x="482.2" y="440.7" width="21.2" height="3.5" fill="#fff"/>
<path d="M482.2 428.6H503.4L507.2 434.65L503.4 440.7H482.2Z" fill="#ffffff" stroke="none"/>
<path d="M482.2 444.2V428.6H503.4L507.2 434.65L503.4 440.7H482.2" fill="none" stroke="#000" stroke-width="1.05"/>
<rect x="480.6" y="440.7" width="21.2" height="3.5" fill="#fff"/>
<path d="M480.6 428.6H501.8L505.6 434.65L501.8 440.7H480.6Z" fill="#ffffff" stroke="none"/>
<path d="M480.6 444.2V428.6H501.8L505.6 434.65L501.8 440.7H480.6" fill="none" stroke="#000" stroke-width="1.05"/>
<text x="482.1" y="438.2" fill="#000" stroke="#000" stroke-width="0.25" font-size="8.1">14:30</text>
<rect x="507.5" y="440.7" width="19" height="3.5" fill="#fff"/>
<path d="M507.5 428.6H526.5V440.7H507.5Z" fill="#ffffff" stroke="none"/>
<path d="M507.5 444.2V428.6H526.5V440.7H507.5" fill="none" stroke="#000" stroke-width="1.05"/>
<text x="509.6" y="438.2" fill="#000" stroke="#000" stroke-width="0.25">21:0</text>
<rect x="526.9" y="440.7" width="20.8" height="3.5" fill="#fff"/>
<path d="M526.9 428.6H547.7L551.5 434.65L547.7 440.7H526.9Z" fill="#ffffff" stroke="none"/>
<path d="M526.9 444.2V428.6H547.7L551.5 434.65L547.7 440.7H526.9" fill="none" stroke="#000" stroke-width="1.05"/>
<text x="529" y="438.2" fill="#000" stroke="#000" stroke-width="0.25" font-size="8.1">02:01</text>
<rect x="557.6" y="440.7" width="13.9" height="3.5" fill="#fff"/>
<path d="M557.6 428.6H571.5V440.7H557.6Z" fill="#afeeee" stroke="none"/>
<path d="M557.6 444.2V428.6H571.5V440.7H557.6" fill="none" stroke="#000" stroke-width="1.05"/>
<text x="559.1" y="438.2" fill="#000" stroke="#000" stroke-width="0.25">10:</text>
<rect x="586.6" y="440.7" width="20.85" height="3.5" fill="#fff"/>
<path d="M586.6 428.6H607.45L611.25 434.65L607.45 440.7H586.6Z" fill="#afeeee" stroke="none"/>
<path d="M586.6 444.2V428.6H607.45L611.25 434.65L607.45 440.7H586.6" fill="none" stroke="#000" stroke-width="1.05"/>
<rect x="585.6" y="440.7" width="19.35" height="3.5" fill="#fff"/>
<path d="M585.6 428.6H604.95L608.75 434.65L604.95 440.7H585.6Z" fill="#afeeee" stroke="none"/>
<path d="M585.6 444.2V428.6H604.95L608.75 434.65L604.95 440.7H585.6" fill="none" stroke="#000" stroke-width="1.05"/>
<text x="587.1" y="438.2" fill="#000" stroke="#000" stroke-width="0.25" font-size="8.1">13:30</text>
<rect x="572.5" y="440.7" width="19.95" height="3.5" fill="#fff"/>
<path d="M572.5 428.6H592.45L596.25 434.65L592.45 440.7H572.5Z" fill="#ffffff" stroke="none"/>
<path d="M572.5 444.2V428.6H592.45L596.25 434.65L592.45 440.7H572.5" fill="none" stroke="#000" stroke-width="1.05"/>
<text x="574" y="438.2" fill="#000" stroke="#000" stroke-width="0.25" font-size="8.1">14:00</text>
<rect x="653.4" y="440.7" width="14.1" height="3.5" fill="#fff"/>
<path d="M653.4 428.6H667.5V440.7H653.4Z" fill="#afeeee" stroke="none"/>
<path d="M653.4 444.2V428.6H667.5V440.7H653.4" fill="none" stroke="#000" stroke-width="1.05"/>
<text x="654.9" y="438.2" fill="#000" stroke="#000" stroke-width="0.25">11:</text>
<rect x="668.5" y="440.7" width="6.5" height="3.5" fill="#fff"/>
<path d="M668.5 428.6H675V440.7H668.5Z" fill="#ffffff" stroke="none"/>
<path d="M668.5 444.2V428.6H675V440.7H668.5" fill="none" stroke="#000" stroke-width="1.05"/>
<text x="670" y="438.2" fill="#000" stroke="#000" stroke-width="0.25">1</text>
<rect x="676.25" y="440.7" width="14" height="3.5" fill="#fff"/>
<path d="M676.25 428.6H690.25V440.7H676.25Z" fill="#ffc0cb" stroke="none"/>
<path d="M676.25 444.2V428.6H690.25V440.7H676.25" fill="none" stroke="#000" stroke-width="1.05"/>
<text x="677.75" y="438.2" fill="#000" stroke="#000" stroke-width="0.25">17:</text>
<rect x="691.5" y="440.7" width="3.75" height="3.5" fill="#fff"/>
<path d="M691.5 428.6H695.25V440.7H691.5Z" fill="#ffffff" stroke="none"/>
<path d="M691.5 444.2V428.6H695.25V440.7H691.5" fill="none" stroke="#000" stroke-width="1.05"/>
<text x="693.6" y="438.2" fill="#000" stroke="#000" stroke-width="0.25">:</text>
<rect x="695.25" y="440.7" width="10.35" height="3.5" fill="#fff"/>
<path d="M695.25 428.6H705.6V440.7H695.25Z" fill="#ffc0cb" stroke="none"/>
<path d="M695.25 444.2V428.6H705.6V440.7H695.25" fill="none" stroke="#000" stroke-width="1.05"/>
<text x="697.35" y="438.2" fill="#000" stroke="#000" stroke-width="0.25">22</text>
<rect x="706.5" y="440.7" width="21.2" height="3.5" fill="#fff"/>
<path d="M706.5 428.6H727.7L731.5 434.65L727.7 440.7H706.5Z" fill="#ffffff" stroke="none"/>
<path d="M706.5 444.2V428.6H727.7L731.5 434.65L727.7 440.7H706.5" fill="none" stroke="#000" stroke-width="1.05"/>
<text x="708.6" y="438.2" fill="#000" stroke="#000" stroke-width="0.25" font-size="8.1">02:01</text>
<rect x="764.2" y="440.7" width="3.3" height="3.5" fill="#fff"/>
<path d="M764.2 428.6H767.5V440.7H764.2Z" fill="#afeeee" stroke="none"/>
<path d="M764.2 444.2V428.6H767.5V440.7H764.2" fill="none" stroke="#000" stroke-width="1.05"/>
<rect x="767.5" y="440.7" width="3.75" height="3.5" fill="#fff"/>
<path d="M767.5 428.6H771.25V440.7H767.5Z" fill="#afeeee" stroke="none"/>
<path d="M767.5 444.2V428.6H771.25V440.7H767.5" fill="none" stroke="#000" stroke-width="1.05"/>
<rect x="771.25" y="440.7" width="21.2" height="3.5" fill="#fff"/>
<path d="M771.25 428.6H792.45L796.25 434.65L792.45 440.7H771.25Z" fill="#ffffff" stroke="none"/>
<path d="M771.25 444.2V428.6H792.45L796.25 434.65L792.45 440.7H771.25" fill="none" stroke="#000" stroke-width="1.05"/>
<text x="772.75" y="438.2" fill="#000" stroke="#000" stroke-width="0.25" font-size="8.1">19:30</text>
<rect x="798.1" y="440.7" width="21.6" height="3.5" fill="#fff"/>
<path d="M798.1 428.6H819.7L823.5 434.65L819.7 440.7H798.1Z" fill="#afeeee" stroke="none"/>
<path d="M798.1 444.2V428.6H819.7L823.5 434.65L819.7 440.7H798.1" fill="none" stroke="#000" stroke-width="1.05"/>
<text x="800.2" y="438.2" fill="#000" stroke="#000" stroke-width="0.25" font-size="8.1">02:01</text>
<rect x="835" y="440.7" width="10.25" height="3.5" fill="#fff"/>
<path d="M835 428.6H845.25V440.7H835Z" fill="#ffffff" stroke="none"/>
<path d="M835 444.2V428.6H845.25V440.7H835" fill="none" stroke="#000" stroke-width="1.05"/>
<text x="836.5" y="438.2" fill="#000" stroke="#000" stroke-width="0.25">11</text>
<rect x="846.9" y="440.7" width="4.35" height="3.5" fill="#fff"/>
<path d="M846.9 428.6H851.25V440.7H846.9Z" fill="#ffffff" stroke="none"/>
<path d="M846.9 444.2V428.6H851.25V440.7H846.9" fill="none" stroke="#000" stroke-width="1.05"/>
<text x="849" y="438.2" fill="#000" stroke="#000" stroke-width="0.25">:</text>
<rect x="851.25" y="440.7" width="4.75" height="3.5" fill="#fff"/>
<path d="M851.25 428.6H856V440.7H851.25Z" fill="#ffffff" stroke="none"/>
<path d="M851.25 444.2V428.6H856V440.7H851.25" fill="none" stroke="#000" stroke-width="1.05"/>
<text x="853.35" y="438.2" fill="#000" stroke="#000" stroke-width="0.25">:</text>
<rect x="856" y="440.7" width="5.9" height="3.5" fill="#fff"/>
<path d="M856 428.6H861.9V440.7H856Z" fill="#ffffff" stroke="none"/>
<path d="M856 444.2V428.6H861.9V440.7H856" fill="none" stroke="#000" stroke-width="1.05"/>
<text x="857.5" y="438.2" fill="#000" stroke="#000" stroke-width="0.25">1</text>
<rect x="861.9" y="440.7" width="5.6" height="3.5" fill="#fff"/>
<path d="M861.9 428.6H867.5V440.7H861.9Z" fill="#ffffff" stroke="none"/>
<path d="M861.9 444.2V428.6H867.5V440.7H861.9" fill="none" stroke="#000" stroke-width="1.05"/>
<text x="863.4" y="438.2" fill="#000" stroke="#000" stroke-width="0.25">1</text>
<rect x="867.5" y="440.7" width="20.2" height="3.5" fill="#fff"/>
<path d="M867.5 428.6H887.7L891.5 434.65L887.7 440.7H867.5Z" fill="#ffffff" stroke="none"/>
<path d="M867.5 444.2V428.6H887.7L891.5 434.65L887.7 440.7H867.5" fill="none" stroke="#000" stroke-width="1.05"/>
<text x="869.6" y="438.2" fill="#000" stroke="#000" stroke-width="0.25" font-size="8.1">20:00</text>
<rect x="926.7" y="440.7" width="9.2" height="3.5" fill="#fff"/>
<path d="M926.7 428.6H935.9V440.7H926.7Z" fill="#ffffff" stroke="none"/>
<path d="M926.7 444.2V428.6H935.9V440.7H926.7" fill="none" stroke="#000" stroke-width="1.05"/>
<text x="928.2" y="438.2" fill="#000" stroke="#000" stroke-width="0.25">1:</text>
<rect x="936.7" y="440.7" width="12" height="3.5" fill="#fff"/>
<path d="M936.7 428.6H948.7V440.7H936.7Z" fill="#ffffff" stroke="none"/>
<path d="M936.7 444.2V428.6H948.7V440.7H936.7" fill="none" stroke="#000" stroke-width="1.05"/>
<text x="938.2" y="438.2" fill="#000" stroke="#000" stroke-width="0.25">14</text>
<rect x="949.7" y="440.7" width="6.9" height="3.5" fill="#fff"/>
<path d="M949.7 428.6H956.6V440.7H949.7Z" fill="#ffffff" stroke="none"/>
<path d="M949.7 444.2V428.6H956.6V440.7H949.7" fill="none" stroke="#000" stroke-width="1.05"/>
<text x="951.2" y="438.2" fill="#000" stroke="#000" stroke-width="0.25">1</text>
</g>
<g fill="#222">
<rect x="48" y="442.2" width="1" height="1.2"/>
<rect x="395.1" y="442.2" width="1" height="1.2"/>
<rect x="395.5" y="442.2" width="1" height="1.2"/>
<rect x="398" y="442.2" width="1" height="1.2"/>
<rect x="400.75" y="442.2" width="1" height="1.2"/>
<rect x="403.5" y="442.2" width="1" height="1.2"/>
<rect x="483.25" y="442.2" width="1" height="1.2"/>
<rect x="483.5" y="442.2" width="1" height="1.2"/>
<rect x="486.4" y="442.2" width="1" height="1.2"/>
<rect x="487.6" y="442.2" width="1" height="1.2"/>
<rect x="489.3" y="442.2" width="1" height="1.2"/>
<rect x="490.75" y="442.2" width="1" height="1.2"/>
<rect x="492.2" y="442.2" width="1" height="1.2"/>
<rect x="499.5" y="442.2" width="1" height="1.2"/>
<rect x="575.75" y="442.2" width="1" height="1.2"/>
<rect x="583.5" y="442.2" width="1" height="1.2"/>
</g>
<g stroke="#000" stroke-width="1" fill="none">
<path d="M2.5 2V551.5"/>
<path d="M2 2.5H957.5"/>
<path d="M957.5 2V551.5"/>
<path d="M2 444.5H957.5"/>
<path d="M2 446.5H961"/>
<path d="M3 445.5H957" stroke="#707070"/>
<path d="M2 551.2H961" stroke-width="1.3"/>
</g>
<g stroke="#000" stroke-width="1" fill="none">
<path d="M957 16.3H961"/>
<path d="M957 53H961"/>
<path d="M957 89H961"/>
<path d="M957 124.3H961"/>
<path d="M957 159.4H961"/>
<path d="M957 195.2H961"/>
<path d="M957 231H961"/>
<path d="M957 266.2H961"/>
<path d="M957 301.5H961"/>
<path d="M957 337.8H961"/>
<path d="M957 373.2H961"/>
<path d="M957 409.3H961"/>
</g>
<g font-family='"Liberation Sans", Arial, sans-serif' font-size="8.2" fill="#000" stroke="#000" stroke-width="0.22">
<text x="963.3" y="19.4">1.5830</text>
<text x="963.3" y="56.1">1.5805</text>
<text x="963.3" y="92.1">1.5780</text>
<text x="963.3" y="127.4">1.5755</text>
<text x="963.3" y="162.5">1.5730</text>
<text x="963.3" y="198.3">1.5705</text>
<text x="963.3" y="234.1">1.5680</text>
<text x="963.3" y="269.3">1.5655</text>
<text x="963.3" y="304.6">1.5630</text>
<text x="963.3" y="340.9">1.5605</text>
<text x="963.3" y="376.3">1.5580</text>
<text x="963.3" y="412.4">1.5555</text>
<text x="962.6" y="454.4">0.00317</text>
<text x="962.4" y="498.2" textLength="25.8" lengthAdjust="spacingAndGlyphs">0.00000</text>
<text x="962.4" y="548.7">-0.00357</text>
</g>
<g font-family='"Liberation Sans", Arial, sans-serif' font-size="8.2">
<rect x="960" y="283.2" width="31" height="10.4" fill="#c0c0c0"/><text x="963.3" y="291.9" fill="#fff">1.5640</text>
<rect x="960" y="16" width="31" height="10.4" fill="#ff0000"/><text x="963.3" y="24.95" fill="#fff">1.5826</text>
<rect x="960" y="44" width="31" height="10.4" fill="#ff0000"/><text x="963.3" y="52.95" fill="#fff">1.5807</text>
<rect x="960" y="105" width="31" height="10.4" fill="#ff0000"/><text x="963.3" y="113.95" fill="#fff">1.5764</text>
<rect x="960" y="161.3" width="31" height="10.4" fill="#ff0000"/><text x="963.3" y="170.25" fill="#fff">1.5725</text>
<rect x="960" y="225.5" width="31" height="10.4" fill="#ff0000"/><text x="963.3" y="234.45" fill="#fff">1.5680</text>
<rect x="960" y="326.9" width="31" height="10.4" fill="#ff0000"/><text x="963.3" y="335.85" fill="#fff">1.5609</text>
<rect x="960" y="425.3" width="31" height="10.4" fill="#ff0000"/><text x="963.3" y="434.25" fill="#fff">1.5539</text>
</g>
<g stroke="#000" stroke-width="1" fill="none">
<path d="M63.2 551V554.5"/>
<path d="M124.5 551V554.5"/>
<path d="M185.7 551V554.5"/>
<path d="M247 551V554.5"/>
<path d="M308.2 551V554.5"/>
<path d="M369.5 551V554.5"/>
<path d="M430.8 551V554.5"/>
<path d="M492 551V554.5"/>
<path d="M553.3 551V554.5"/>
<path d="M614.5 551V554.5"/>
<path d="M675.8 551V554.5"/>
<path d="M737.1 551V554.5"/>
<path d="M798.3 551V554.5"/>
</g>
<g font-family='"Liberation Sans", Arial, sans-serif' font-size="8.2" fill="#000" stroke="#000" stroke-width="0.22">
<text x="2.1" y="563.2">26 Nov 2014</text>
<text x="63" y="563.2">27 Nov 00:00</text>
<text x="124.3" y="563.2">27 Nov 16:00</text>
<text x="185.5" y="563.2">28 Nov 08:00</text>
<text x="246.8" y="563.2">1 Dec 01:00</text>
<text x="308" y="563.2">1 Dec 17:00</text>
<text x="369.3" y="563.2">2 Dec 09:00</text>
<text x="430.6" y="563.2">3 Dec 01:00</text>
<text x="491.8" y="563.2">3 Dec 17:00</text>
<text x="553.1" y="563.2">4 Dec 09:00</text>
<text x="614.3" y="563.2">5 Dec 01:00</text>
<text x="675.6" y="563.2">5 Dec 17:00</text>
<text x="736.9" y="563.2">8 Dec 10:00</text>
<text x="798.1" y="563.2">9 Dec 02:00</text>
<text x="6.0" y="13.0" textLength="45.8" lengthAdjust="spacingAndGlyphs">GBPUSD,H1</text>
<text x="6.3" y="458.2" textLength="117" lengthAdjust="spacingAndGlyphs">MACD(12,26,9) 0.00093 0.00122</text>
<text x="5.3" y="547.2" textLength="220.8" lengthAdjust="spacingAndGlyphs">MetaTrader 5, © 2001-2014, MetaQuotes Software Corp.</text>
</g>
</g>
</svg>
</body>
</html>
